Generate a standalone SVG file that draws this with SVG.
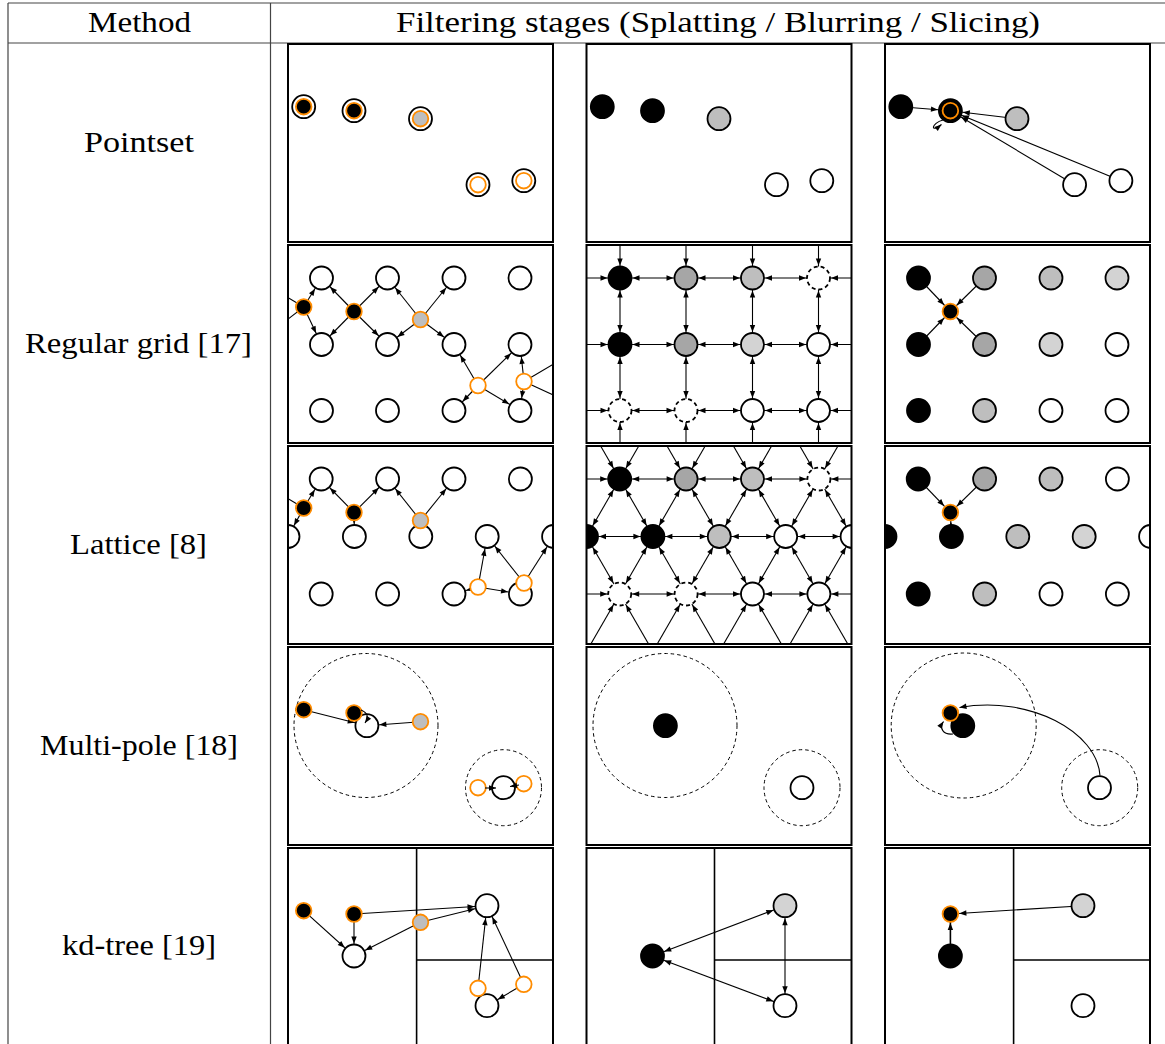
<svg xmlns="http://www.w3.org/2000/svg" width="1165" height="1044" viewBox="0 0 1165 1044">
<style>
.tl{stroke:#444;stroke-width:1.2;fill:none}
.fr{fill:none;stroke:#000;stroke-width:2}
.e{stroke:#000;stroke-width:1.1;fill:none}
.b{marker-start:url(#a);marker-end:url(#a)}
.t{marker-end:url(#a)}
.to{marker-end:url(#ao)}
.t0{marker-end:url(#a0)}
.n{stroke:#000;stroke-width:1.8}
.o{stroke:#ff8c00;stroke-width:1.8}
.d{fill:#fff;stroke:#000;stroke-width:1.8;stroke-dasharray:4 3}
.dc{fill:none;stroke:#000;stroke-width:1;stroke-dasharray:3.5 3}
.dv{stroke:#000;stroke-width:1.6}
.k{fill:#000}.g1{fill:#a6a6a6}.g2{fill:#bebebe}.g3{fill:#d3d3d3}.w{fill:#fff}
.lb{font-family:"Liberation Serif","DejaVu Serif",serif;font-size:29px;fill:#000}
</style>
<defs>
<marker id="a" markerUnits="userSpaceOnUse" viewBox="-20 -10 40 20" markerWidth="40" markerHeight="20" refX="12.5" refY="0" orient="auto-start-reverse"><path d="M0,0 L-7,-2.7 L-7,2.7 Z" fill="#000"/></marker>
<marker id="ao" markerUnits="userSpaceOnUse" viewBox="-20 -10 40 20" markerWidth="40" markerHeight="20" refX="9" refY="0" orient="auto-start-reverse"><path d="M0,0 L-7,-2.7 L-7,2.7 Z" fill="#000"/></marker>
<marker id="a0" markerUnits="userSpaceOnUse" viewBox="-20 -10 40 20" markerWidth="40" markerHeight="20" refX="0" refY="0" orient="auto"><path d="M0,0 L-7,-2.7 L-7,2.7 Z" fill="#000"/></marker>
<clipPath id="pc" clipPathUnits="userSpaceOnUse"><rect x="0" y="0" width="265" height="198"/></clipPath>
</defs>

<g id="table">
<line class="tl" x1="8" y1="3" x2="1165" y2="3"/>
<line class="tl" x1="8" y1="43" x2="1165" y2="43"/>
<line class="tl" x1="8" y1="3" x2="8" y2="1044"/>
<line class="tl" x1="270.5" y1="3" x2="270.5" y2="1044"/>
<text class="lb" font-family="Liberation Serif, serif" x="139.5" y="32" text-anchor="middle" textLength="103" lengthAdjust="spacingAndGlyphs">Method</text>
<text class="lb" font-family="Liberation Serif, serif" x="718" y="32" text-anchor="middle" textLength="644" lengthAdjust="spacingAndGlyphs">Filtering stages (Splatting / Blurring / Slicing)</text>
<text class="lb" font-family="Liberation Serif, serif" x="139" y="152" text-anchor="middle" textLength="110" lengthAdjust="spacingAndGlyphs">Pointset</text>
<text class="lb" font-family="Liberation Serif, serif" x="138.5" y="353" text-anchor="middle" textLength="227" lengthAdjust="spacingAndGlyphs">Regular grid [17]</text>
<text class="lb" font-family="Liberation Serif, serif" x="138.5" y="554" text-anchor="middle" textLength="137" lengthAdjust="spacingAndGlyphs">Lattice [8]</text>
<text class="lb" font-family="Liberation Serif, serif" x="139" y="755" text-anchor="middle" textLength="198" lengthAdjust="spacingAndGlyphs">Multi-pole [18]</text>
<text class="lb" font-family="Liberation Serif, serif" x="139" y="955" text-anchor="middle" textLength="154" lengthAdjust="spacingAndGlyphs">kd-tree [19]</text>
</g>

<!-- Row 1: Pointset -->
<g id="pointset-splat" transform="translate(288,44)">
<g clip-path="url(#pc)">
<g id="ps1-nodes">
<circle cx="15.7" cy="62.7" r="11.5" class="n w"/><circle id="ps1-p1" cx="15.7" cy="62.7" r="7.8" class="o k"/>
<circle cx="66" cy="66.7" r="11.5" class="n w"/><circle id="ps1-p2" cx="66" cy="66.7" r="7.8" class="o k"/>
<circle cx="132.5" cy="74.7" r="11.5" class="n w"/><circle id="ps1-p3" cx="132.5" cy="74.7" r="7.8" class="o g2"/>
<circle cx="190" cy="140.7" r="11.5" class="n w"/><circle id="ps1-p4" cx="190" cy="140.7" r="7.8" class="o w"/>
<circle cx="235.8" cy="136.7" r="11.5" class="n w"/><circle id="ps1-p5" cx="235.8" cy="136.7" r="7.8" class="o w"/>
</g>
</g>
<rect class="fr" x="0" y="0" width="265" height="198"/>
</g>

<g id="pointset-blur" transform="translate(586.5,44)">
<g clip-path="url(#pc)">
<circle id="ps2-n1" cx="15.8" cy="62.7" r="11.5" class="n k"/>
<circle id="ps2-n2" cx="66" cy="66.7" r="11.5" class="n k"/>
<circle id="ps2-n3" cx="132.5" cy="74.7" r="11.5" class="n g2"/>
<circle id="ps2-n4" cx="190" cy="140.7" r="11.5" class="n w"/>
<circle id="ps2-n5" cx="235.3" cy="136.7" r="11.5" class="n w"/>
</g>
<rect class="fr" x="0" y="0" width="265" height="198"/>
</g>

<g id="pointset-slice" transform="translate(885,44)">
<g clip-path="url(#pc)">
<g id="ps3-edges">
<line class="e t" x1="15.8" y1="62.7" x2="65.4" y2="66.7"/>
<line class="e t" x1="132" y1="74.7" x2="65.4" y2="66.7"/>
<line class="e t" x1="189.6" y1="140.7" x2="65.4" y2="66.7"/>
<line class="e t" x1="235.9" y1="136.7" x2="65.4" y2="66.7"/>
<path class="e t0" d="M58,76 C46,79 45,90 56.5,80.5"/>
</g>
<circle id="ps3-n1" cx="15.8" cy="62.7" r="11.5" class="n k"/>
<circle id="ps3-n2" cx="65.4" cy="66.7" r="11.5" class="n k"/><circle cx="65.4" cy="66.7" r="7.8" class="o k"/>
<circle id="ps3-n3" cx="132" cy="74.7" r="11.5" class="n g2"/>
<circle id="ps3-n4" cx="189.6" cy="140.7" r="11.5" class="n w"/>
<circle id="ps3-n5" cx="235.9" cy="136.7" r="11.5" class="n w"/>
</g>
<rect class="fr" x="0" y="0" width="265" height="198"/>
</g>

<!-- Row 2: Regular grid -->
<g id="grid-splat" transform="translate(288,245)">
<g clip-path="url(#pc)">
<g id="g1-edges">
<line class="e" x1="15.7" y1="62" x2="-33" y2="33"/>
<line class="e" x1="15.7" y1="62" x2="-33" y2="99.5"/>
<line class="e t" x1="15.7" y1="62" x2="33.5" y2="33"/>
<line class="e t" x1="15.7" y1="62" x2="33.5" y2="99.5"/>
<line class="e t" x1="66" y1="66.5" x2="33.5" y2="33"/>
<line class="e t" x1="66" y1="66.5" x2="99.5" y2="33"/>
<line class="e t" x1="66" y1="66.5" x2="33.5" y2="99.5"/>
<line class="e t" x1="66" y1="66.5" x2="99.5" y2="99.5"/>
<line class="e t" x1="132.5" y1="74.5" x2="99.5" y2="33"/>
<line class="e t" x1="132.5" y1="74.5" x2="166" y2="33"/>
<line class="e t" x1="132.5" y1="74.5" x2="99.5" y2="99.5"/>
<line class="e t" x1="132.5" y1="74.5" x2="166" y2="99.5"/>
<line class="e t" x1="190" y1="140.5" x2="166" y2="99.5"/>
<line class="e t" x1="190" y1="140.5" x2="232" y2="99.5"/>
<line class="e t" x1="190" y1="140.5" x2="166" y2="165.5"/>
<line class="e t" x1="190" y1="140.5" x2="232" y2="165.5"/>
<line class="e t" x1="236" y1="136.5" x2="232" y2="99.5"/>
<line class="e t" x1="236" y1="136.5" x2="232" y2="165.5"/>
<line class="e" x1="236" y1="136.5" x2="298.5" y2="99.5"/>
<line class="e" x1="236" y1="136.5" x2="298.5" y2="165.5"/>
</g>
<g id="g1-nodes">
<circle cx="33.5" cy="33" r="11.5" class="n w"/><circle cx="99.5" cy="33" r="11.5" class="n w"/><circle cx="166" cy="33" r="11.5" class="n w"/><circle cx="232" cy="33" r="11.5" class="n w"/>
<circle cx="33.5" cy="99.5" r="11.5" class="n w"/><circle cx="99.5" cy="99.5" r="11.5" class="n w"/><circle cx="166" cy="99.5" r="11.5" class="n w"/><circle cx="232" cy="99.5" r="11.5" class="n w"/>
<circle cx="33.5" cy="165.5" r="11.5" class="n w"/><circle cx="99.5" cy="165.5" r="11.5" class="n w"/><circle cx="166" cy="165.5" r="11.5" class="n w"/><circle cx="232" cy="165.5" r="11.5" class="n w"/>
<circle id="g1-p1" cx="15.7" cy="62" r="7.8" class="o k"/>
<circle id="g1-p2" cx="66" cy="66.5" r="7.8" class="o k"/>
<circle id="g1-p3" cx="132.5" cy="74.5" r="7.8" class="o g2"/>
<circle id="g1-p4" cx="190" cy="140.5" r="7.8" class="o w"/>
<circle id="g1-p5" cx="236" cy="136.5" r="7.8" class="o w"/>
</g>
</g>
<rect class="fr" x="0" y="0" width="265" height="198"/>
</g>

<g id="grid-blur" transform="translate(586.5,245)">
<g clip-path="url(#pc)">
<g id="g2-edges">
<line class="e t" x1="-33" y1="33" x2="33.5" y2="33"/><line class="e b" x1="33.5" y1="33" x2="99.5" y2="33"/><line class="e b" x1="99.5" y1="33" x2="166" y2="33"/><line class="e b" x1="166" y1="33" x2="232" y2="33"/><line class="e t" x1="298.5" y1="33" x2="232" y2="33"/>
<line class="e t" x1="-33" y1="99.5" x2="33.5" y2="99.5"/><line class="e b" x1="33.5" y1="99.5" x2="99.5" y2="99.5"/><line class="e b" x1="99.5" y1="99.5" x2="166" y2="99.5"/><line class="e b" x1="166" y1="99.5" x2="232" y2="99.5"/><line class="e t" x1="298.5" y1="99.5" x2="232" y2="99.5"/>
<line class="e t" x1="-33" y1="165.5" x2="33.5" y2="165.5"/><line class="e b" x1="33.5" y1="165.5" x2="99.5" y2="165.5"/><line class="e b" x1="99.5" y1="165.5" x2="166" y2="165.5"/><line class="e b" x1="166" y1="165.5" x2="232" y2="165.5"/><line class="e t" x1="298.5" y1="165.5" x2="232" y2="165.5"/>
<line class="e t" x1="33.5" y1="-33" x2="33.5" y2="33"/><line class="e b" x1="33.5" y1="33" x2="33.5" y2="99.5"/><line class="e b" x1="33.5" y1="99.5" x2="33.5" y2="165.5"/><line class="e t" x1="33.5" y1="231.5" x2="33.5" y2="165.5"/>
<line class="e t" x1="99.5" y1="-33" x2="99.5" y2="33"/><line class="e b" x1="99.5" y1="33" x2="99.5" y2="99.5"/><line class="e b" x1="99.5" y1="99.5" x2="99.5" y2="165.5"/><line class="e t" x1="99.5" y1="231.5" x2="99.5" y2="165.5"/>
<line class="e t" x1="166" y1="-33" x2="166" y2="33"/><line class="e b" x1="166" y1="33" x2="166" y2="99.5"/><line class="e b" x1="166" y1="99.5" x2="166" y2="165.5"/><line class="e t" x1="166" y1="231.5" x2="166" y2="165.5"/>
<line class="e t" x1="232" y1="-33" x2="232" y2="33"/><line class="e b" x1="232" y1="33" x2="232" y2="99.5"/><line class="e b" x1="232" y1="99.5" x2="232" y2="165.5"/><line class="e t" x1="232" y1="231.5" x2="232" y2="165.5"/>
</g>
<g id="g2-nodes">
<circle cx="33.5" cy="33" r="11.5" class="n k"/><circle cx="99.5" cy="33" r="11.5" class="n g1"/><circle cx="166" cy="33" r="11.5" class="n g2"/><circle cx="232" cy="33" r="11.5" class="d"/>
<circle cx="33.5" cy="99.5" r="11.5" class="n k"/><circle cx="99.5" cy="99.5" r="11.5" class="n g1"/><circle cx="166" cy="99.5" r="11.5" class="n g3"/><circle cx="232" cy="99.5" r="11.5" class="n w"/>
<circle cx="33.5" cy="165.5" r="11.5" class="d"/><circle cx="99.5" cy="165.5" r="11.5" class="d"/><circle cx="166" cy="165.5" r="11.5" class="n w"/><circle cx="232" cy="165.5" r="11.5" class="n w"/>
</g>
</g>
<rect class="fr" x="0" y="0" width="265" height="198"/>
</g>

<g id="grid-slice" transform="translate(885,245)">
<g clip-path="url(#pc)">
<g id="g3-edges">
<line class="e to" x1="33.5" y1="33" x2="65.4" y2="66.5"/>
<line class="e to" x1="99.5" y1="33" x2="65.4" y2="66.5"/>
<line class="e to" x1="33.5" y1="99.5" x2="65.4" y2="66.5"/>
<line class="e to" x1="99.5" y1="99.5" x2="65.4" y2="66.5"/>
</g>
<g id="g3-nodes">
<circle cx="33.5" cy="33" r="11.5" class="n k"/><circle cx="99.5" cy="33" r="11.5" class="n g1"/><circle cx="166" cy="33" r="11.5" class="n g2"/><circle cx="232" cy="33" r="11.5" class="n g3"/>
<circle cx="33.5" cy="99.5" r="11.5" class="n k"/><circle cx="99.5" cy="99.5" r="11.5" class="n g1"/><circle cx="166" cy="99.5" r="11.5" class="n g3"/><circle cx="232" cy="99.5" r="11.5" class="n w"/>
<circle cx="33.5" cy="165.5" r="11.5" class="n k"/><circle cx="99.5" cy="165.5" r="11.5" class="n g2"/><circle cx="166" cy="165.5" r="11.5" class="n w"/><circle cx="232" cy="165.5" r="11.5" class="n w"/>
<circle id="g3-p" cx="65.4" cy="66.5" r="7.8" class="o k"/>
</g>
</g>
<rect class="fr" x="0" y="0" width="265" height="198"/>
</g>

<!-- Row 3: Lattice -->
<g id="lattice-splat" transform="translate(288,446)">
<g clip-path="url(#pc)">
<g id="l1-edges">
<line class="e" x1="15.7" y1="62" x2="-33.2" y2="33"/>
<line class="e t" x1="15.7" y1="62" x2="33.2" y2="33"/>
<line class="e t" x1="15.7" y1="62" x2="0" y2="90.5"/>
<line class="e t" x1="66" y1="66.5" x2="33.2" y2="33"/>
<line class="e t" x1="66" y1="66.5" x2="99.6" y2="33"/>
<line class="e t" x1="66" y1="66.5" x2="66.4" y2="90.5"/>
<line class="e t" x1="132.5" y1="74.5" x2="99.6" y2="33"/>
<line class="e t" x1="132.5" y1="74.5" x2="166" y2="33"/>
<line class="e t" x1="132.5" y1="74.5" x2="132.8" y2="90.5"/>
<line class="e t" x1="190" y1="141" x2="199.2" y2="90.5"/>
<line class="e t" x1="190" y1="141" x2="166" y2="148"/>
<line class="e t" x1="190" y1="141" x2="232.4" y2="148"/>
<line class="e t" x1="236" y1="137" x2="199.2" y2="90.5"/>
<line class="e t" x1="236" y1="137" x2="265.6" y2="90.5"/>
<line class="e t" x1="236" y1="137" x2="232.4" y2="148"/>
</g>
<g id="l1-nodes">
<circle cx="33.2" cy="33" r="11.5" class="n w"/><circle cx="99.6" cy="33" r="11.5" class="n w"/><circle cx="166" cy="33" r="11.5" class="n w"/><circle cx="232.4" cy="33" r="11.5" class="n w"/>
<circle cx="0" cy="90.5" r="11.5" class="n w"/><circle cx="66.4" cy="90.5" r="11.5" class="n w"/><circle cx="132.8" cy="90.5" r="11.5" class="n w"/><circle cx="199.2" cy="90.5" r="11.5" class="n w"/><circle cx="265.6" cy="90.5" r="11.5" class="n w"/>
<circle cx="33.2" cy="148" r="11.5" class="n w"/><circle cx="99.6" cy="148" r="11.5" class="n w"/><circle cx="166" cy="148" r="11.5" class="n w"/><circle cx="232.4" cy="148" r="11.5" class="n w"/>
<circle id="l1-p1" cx="15.7" cy="62" r="7.8" class="o k"/>
<circle id="l1-p2" cx="66" cy="66.5" r="7.8" class="o k"/>
<circle id="l1-p3" cx="132.5" cy="74.5" r="7.8" class="o g2"/>
<circle id="l1-p4" cx="190" cy="141" r="7.8" class="o w"/>
<circle id="l1-p5" cx="236" cy="137" r="7.8" class="o w"/>
</g>
</g>
<rect class="fr" x="0" y="0" width="265" height="198"/>
</g>

<g id="lattice-blur" transform="translate(586.5,446)">
<g clip-path="url(#pc)">
<g id="l2-edges">
<line class="e t" x1="0" y1="-24.5" x2="33.2" y2="33"/><line class="e t" x1="66.4" y1="-24.5" x2="33.2" y2="33"/>
<line class="e t" x1="66.4" y1="-24.5" x2="99.6" y2="33"/><line class="e t" x1="132.8" y1="-24.5" x2="99.6" y2="33"/>
<line class="e t" x1="132.8" y1="-24.5" x2="166" y2="33"/><line class="e t" x1="199.2" y1="-24.5" x2="166" y2="33"/>
<line class="e t" x1="199.2" y1="-24.5" x2="232.4" y2="33"/><line class="e t" x1="265.6" y1="-24.5" x2="232.4" y2="33"/>
<line class="e b" x1="33.2" y1="33" x2="0" y2="90.5"/><line class="e b" x1="33.2" y1="33" x2="66.4" y2="90.5"/>
<line class="e b" x1="99.6" y1="33" x2="66.4" y2="90.5"/><line class="e b" x1="99.6" y1="33" x2="132.8" y2="90.5"/>
<line class="e b" x1="166" y1="33" x2="132.8" y2="90.5"/><line class="e b" x1="166" y1="33" x2="199.2" y2="90.5"/>
<line class="e b" x1="232.4" y1="33" x2="199.2" y2="90.5"/><line class="e b" x1="232.4" y1="33" x2="265.6" y2="90.5"/>
<line class="e b" x1="0" y1="90.5" x2="33.2" y2="148"/><line class="e b" x1="66.4" y1="90.5" x2="33.2" y2="148"/>
<line class="e b" x1="66.4" y1="90.5" x2="99.6" y2="148"/><line class="e b" x1="132.8" y1="90.5" x2="99.6" y2="148"/>
<line class="e b" x1="132.8" y1="90.5" x2="166" y2="148"/><line class="e b" x1="199.2" y1="90.5" x2="166" y2="148"/>
<line class="e b" x1="199.2" y1="90.5" x2="232.4" y2="148"/><line class="e b" x1="265.6" y1="90.5" x2="232.4" y2="148"/>
<line class="e t" x1="0" y1="205.5" x2="33.2" y2="148"/><line class="e t" x1="66.4" y1="205.5" x2="33.2" y2="148"/>
<line class="e t" x1="66.4" y1="205.5" x2="99.6" y2="148"/><line class="e t" x1="132.8" y1="205.5" x2="99.6" y2="148"/>
<line class="e t" x1="132.8" y1="205.5" x2="166" y2="148"/><line class="e t" x1="199.2" y1="205.5" x2="166" y2="148"/>
<line class="e t" x1="199.2" y1="205.5" x2="232.4" y2="148"/><line class="e t" x1="265.6" y1="205.5" x2="232.4" y2="148"/>
<line class="e t" x1="-33.2" y1="33" x2="33.2" y2="33"/><line class="e b" x1="33.2" y1="33" x2="99.6" y2="33"/><line class="e b" x1="99.6" y1="33" x2="166" y2="33"/><line class="e b" x1="166" y1="33" x2="232.4" y2="33"/><line class="e t" x1="298.8" y1="33" x2="232.4" y2="33"/>
<line class="e b" x1="0" y1="90.5" x2="66.4" y2="90.5"/><line class="e b" x1="66.4" y1="90.5" x2="132.8" y2="90.5"/><line class="e b" x1="132.8" y1="90.5" x2="199.2" y2="90.5"/><line class="e b" x1="199.2" y1="90.5" x2="265.6" y2="90.5"/>
<line class="e t" x1="-33.2" y1="148" x2="33.2" y2="148"/><line class="e b" x1="33.2" y1="148" x2="99.6" y2="148"/><line class="e b" x1="99.6" y1="148" x2="166" y2="148"/><line class="e b" x1="166" y1="148" x2="232.4" y2="148"/><line class="e t" x1="298.8" y1="148" x2="232.4" y2="148"/>
</g>
<g id="l2-nodes">
<circle cx="33.2" cy="33" r="11.5" class="n k"/><circle cx="99.6" cy="33" r="11.5" class="n g1"/><circle cx="166" cy="33" r="11.5" class="n g2"/><circle cx="232.4" cy="33" r="11.5" class="d"/>
<circle cx="0" cy="90.5" r="11.5" class="n k"/><circle cx="66.4" cy="90.5" r="11.5" class="n k"/><circle cx="132.8" cy="90.5" r="11.5" class="n g2"/><circle cx="199.2" cy="90.5" r="11.5" class="n w"/><circle cx="265.6" cy="90.5" r="11.5" class="n w"/>
<circle cx="33.2" cy="148" r="11.5" class="d"/><circle cx="99.6" cy="148" r="11.5" class="d"/><circle cx="166" cy="148" r="11.5" class="n w"/><circle cx="232.4" cy="148" r="11.5" class="n w"/>
</g>
</g>
<rect class="fr" x="0" y="0" width="265" height="198"/>
</g>

<g id="lattice-slice" transform="translate(885,446)">
<g clip-path="url(#pc)">
<g id="l3-edges">
<line class="e to" x1="33.2" y1="33" x2="65.4" y2="66.5"/>
<line class="e to" x1="99.6" y1="33" x2="65.4" y2="66.5"/>
<line class="e to" x1="66.4" y1="90.5" x2="65.4" y2="66.5"/>
</g>
<g id="l3-nodes">
<circle cx="33.2" cy="33" r="11.5" class="n k"/><circle cx="99.6" cy="33" r="11.5" class="n g1"/><circle cx="166" cy="33" r="11.5" class="n g2"/><circle cx="232.4" cy="33" r="11.5" class="n w"/>
<circle cx="0" cy="90.5" r="11.5" class="n k"/><circle cx="66.4" cy="90.5" r="11.5" class="n k"/><circle cx="132.8" cy="90.5" r="11.5" class="n g2"/><circle cx="199.2" cy="90.5" r="11.5" class="n g3"/><circle cx="265.6" cy="90.5" r="11.5" class="n w"/>
<circle cx="33.2" cy="148" r="11.5" class="n k"/><circle cx="99.6" cy="148" r="11.5" class="n g2"/><circle cx="166" cy="148" r="11.5" class="n w"/><circle cx="232.4" cy="148" r="11.5" class="n w"/>
<circle id="l3-p" cx="65.4" cy="66.5" r="7.8" class="o k"/>
</g>
</g>
<rect class="fr" x="0" y="0" width="265" height="198"/>
</g>

<!-- Row 4: Multi-pole -->
<g id="multipole-splat" transform="translate(288,647)">
<g clip-path="url(#pc)">
<circle class="dc" cx="78" cy="78.5" r="72"/>
<circle class="dc" cx="215.5" cy="140.7" r="38"/>
<g id="m1-edges">
<line class="e t" x1="15.7" y1="62.7" x2="78.9" y2="78.7"/>
<line class="e t" x1="132.5" y1="74.7" x2="78.9" y2="78.7"/>
</g>
<circle id="m1-w1" cx="78.9" cy="78.7" r="11.5" class="n w"/>
<circle id="m1-w2" cx="215.5" cy="140.7" r="11.5" class="n w"/>
<circle id="m1-p1" cx="15.7" cy="62.7" r="7.8" class="o k"/>
<circle id="m1-p2" cx="66" cy="66" r="7.8" class="o k"/>
<circle id="m1-p3" cx="132.5" cy="74.7" r="7.8" class="o g2"/>
<circle id="m1-p4" cx="190" cy="140.7" r="7.8" class="o w"/>
<circle id="m1-p5" cx="235.8" cy="136.7" r="7.8" class="o w"/>
<path class="e t0" d="M73,63 Q83,67 77,76"/>
<path class="e t0" d="M197,141 L208,141"/>
<path class="e t0" d="M231,138 L222,139.5"/>
</g>
<rect class="fr" x="0" y="0" width="265" height="198"/>
</g>

<g id="multipole-blur" transform="translate(586.5,647)">
<g clip-path="url(#pc)">
<circle class="dc" cx="78.5" cy="78.5" r="72"/>
<circle class="dc" cx="215.5" cy="140.7" r="38"/>
<circle id="m2-k" cx="78.9" cy="78.7" r="11.5" class="n k"/>
<circle id="m2-w" cx="215.5" cy="140.7" r="11.5" class="n w"/>
</g>
<rect class="fr" x="0" y="0" width="265" height="198"/>
</g>

<g id="multipole-slice" transform="translate(885,647)">
<g clip-path="url(#pc)">
<circle class="dc" cx="78.7" cy="78.5" r="72.5"/>
<circle class="dc" cx="214.7" cy="140.7" r="38"/>
<circle id="m3-k" cx="77.8" cy="78.7" r="11.5" class="n k"/>
<circle id="m3-w" cx="214.5" cy="140.7" r="11.5" class="n w"/>
<circle id="m3-p" cx="65.4" cy="66" r="7.8" class="o k"/>
<g id="m3-edges">
<path class="e t0" d="M215,128.5 C212,85 145,48 74.5,60.5"/>
<path class="e t0" d="M68,87 C58,88 54,81 58.5,74.5"/>
</g>
</g>
<rect class="fr" x="0" y="0" width="265" height="198"/>
</g>

<!-- Row 5: kd-tree -->
<g id="kdtree-splat" transform="translate(288,848)">
<g clip-path="url(#pc)">
<line class="dv" x1="128.6" y1="0" x2="128.6" y2="198"/>
<line class="dv" x1="128.6" y1="112" x2="265" y2="112"/>
<g id="k1-edges">
<line class="e t" x1="15.7" y1="62.7" x2="66" y2="108"/>
<line class="e t" x1="66" y1="66" x2="66" y2="108"/>
<line class="e t" x1="132.5" y1="74.3" x2="66" y2="108"/>
<line class="e t" x1="66" y1="66" x2="199" y2="57.7"/>
<line class="e t" x1="132.5" y1="74.3" x2="199" y2="57.7"/>
<line class="e t" x1="190" y1="140.3" x2="199" y2="57.7"/>
<line class="e t" x1="235.8" y1="136.3" x2="199" y2="57.7"/>
<line class="e t" x1="190" y1="140.3" x2="199" y2="157.7"/>
<line class="e t" x1="235.8" y1="136.3" x2="199" y2="157.7"/>
</g>
<circle id="k1-w1" cx="66" cy="108" r="11.5" class="n w"/>
<circle id="k1-w2" cx="199" cy="57.7" r="11.5" class="n w"/>
<circle id="k1-w3" cx="199" cy="157.7" r="11.5" class="n w"/>
<circle id="k1-p1" cx="15.7" cy="62.7" r="7.8" class="o k"/>
<circle id="k1-p2" cx="66" cy="66" r="7.8" class="o k"/>
<circle id="k1-p3" cx="132.5" cy="74.3" r="7.8" class="o g2"/>
<circle id="k1-p4" cx="190" cy="140.3" r="7.8" class="o w"/>
<circle id="k1-p5" cx="235.8" cy="136.3" r="7.8" class="o w"/>
</g>
<rect class="fr" x="0" y="0" width="265" height="198"/>
</g>

<g id="kdtree-blur" transform="translate(586.5,848)">
<g clip-path="url(#pc)">
<line class="dv" x1="128" y1="0" x2="128" y2="198"/>
<line class="dv" x1="128" y1="112" x2="265" y2="112"/>
<g id="k2-edges">
<line class="e b" x1="66" y1="108" x2="198.5" y2="57.7"/>
<line class="e b" x1="66" y1="108" x2="198.5" y2="157.7"/>
<line class="e b" x1="198.5" y1="57.7" x2="198.5" y2="157.7"/>
</g>
<circle id="k2-k" cx="66" cy="108" r="11.5" class="n k"/>
<circle id="k2-g" cx="198.5" cy="57.7" r="11.5" class="n g3"/>
<circle id="k2-w" cx="198.5" cy="157.7" r="11.5" class="n w"/>
</g>
<rect class="fr" x="0" y="0" width="265" height="198"/>
</g>

<g id="kdtree-slice" transform="translate(885,848)">
<g clip-path="url(#pc)">
<line class="dv" x1="128.6" y1="0" x2="128.6" y2="198"/>
<line class="dv" x1="128.6" y1="112" x2="265" y2="112"/>
<g id="k3-edges">
<line class="e to" x1="198" y1="57.7" x2="65.4" y2="66"/>
<line class="e to" x1="65.4" y1="108" x2="65.4" y2="66" style="stroke-width:1.6"/>
</g>
<circle id="k3-k" cx="65.4" cy="108" r="11.5" class="n k"/>
<circle id="k3-g" cx="198" cy="57.7" r="11.5" class="n g3"/>
<circle id="k3-w" cx="198" cy="157.7" r="11.5" class="n w"/>
<circle id="k3-p" cx="65.4" cy="66" r="7.8" class="o k"/>
</g>
<rect class="fr" x="0" y="0" width="265" height="198"/>
</g>
</svg>
